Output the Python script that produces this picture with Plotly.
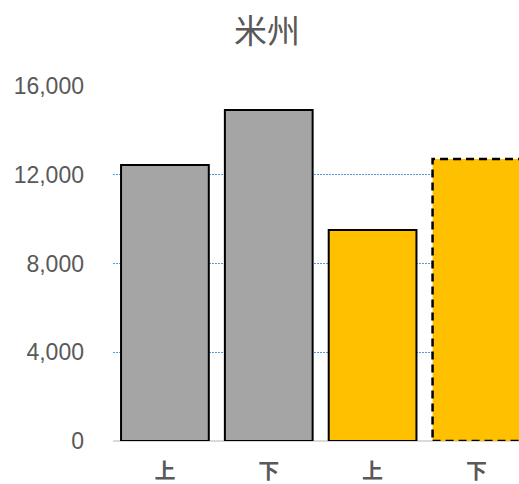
import plotly.graph_objects as go

title = "米州"
categories = ["上", "下", "上", "下"]
values = [12440, 14920, 9510, 12710]
colors = ["#A5A5A5", "#A5A5A5", "#FFC000", "#FFC000"]
dashed = [False, False, False, True]
tick_vals = [0, 4000, 8000, 12000, 16000]
tick_text = ["0", "4,000", "8,000", "12,000", "16,000"]

bar_width = 0.845
xs = list(range(len(categories)))

fig = go.Figure()
fig.add_trace(go.Bar(
    x=xs, y=values, width=bar_width,
    marker=dict(color=colors,
                line=dict(color=["rgba(0,0,0,0)" if d else "#000000" for d in dashed], width=2)),
    hoverinfo="skip",
))

for i, (v, d) in enumerate(zip(values, dashed)):
    if d:
        fig.add_shape(type="rect", xref="x", yref="y",
                      x0=xs[i] - bar_width / 2, x1=xs[i] + bar_width / 2, y0=0, y1=v,
                      line=dict(color="#000000", width=2.5, dash="8px,5px"),
                      fillcolor="rgba(0,0,0,0)", layer="above")

fig.update_layout(
    width=519, height=484,
    margin=dict(l=113, r=0, t=86, b=43, autoexpand=False),
    paper_bgcolor="white", plot_bgcolor="white",
    showlegend=False,
    title=dict(text=title, x=267 / 519, xanchor="center", xref="container",
               y=1 - 31 / 484, yanchor="middle", yref="container",
               font=dict(family="Noto Sans CJK JP", size=33, color="#595959")),
    bargap=0.155,
)
fig.update_xaxes(
    tickvals=xs, ticktext=categories,
    range=[-0.5, 3.41],
    showgrid=False, showline=False, ticks="", automargin=False,
    tickfont=dict(family="Noto Sans CJK JP", size=21, color="#595959", weight="bold"),
    ticklabelstandoff=15,
)
fig.update_yaxes(
    range=[0, 16000],
    tickvals=tick_vals, ticktext=tick_text,
    showgrid=True, gridcolor="#5B9BD5", gridwidth=1, griddash="2px,1px",
    zeroline=True, zerolinecolor="#D9D9D9", zerolinewidth=2,
    showline=False, ticks="", automargin=False,
    tickfont=dict(family="Liberation Sans", size=23, color="#595959"),
    ticklabelstandoff=28,
)

fig.write_html("out.html", config={"displayModeBar": False},
               post_script="document.body.style.margin='0';")
